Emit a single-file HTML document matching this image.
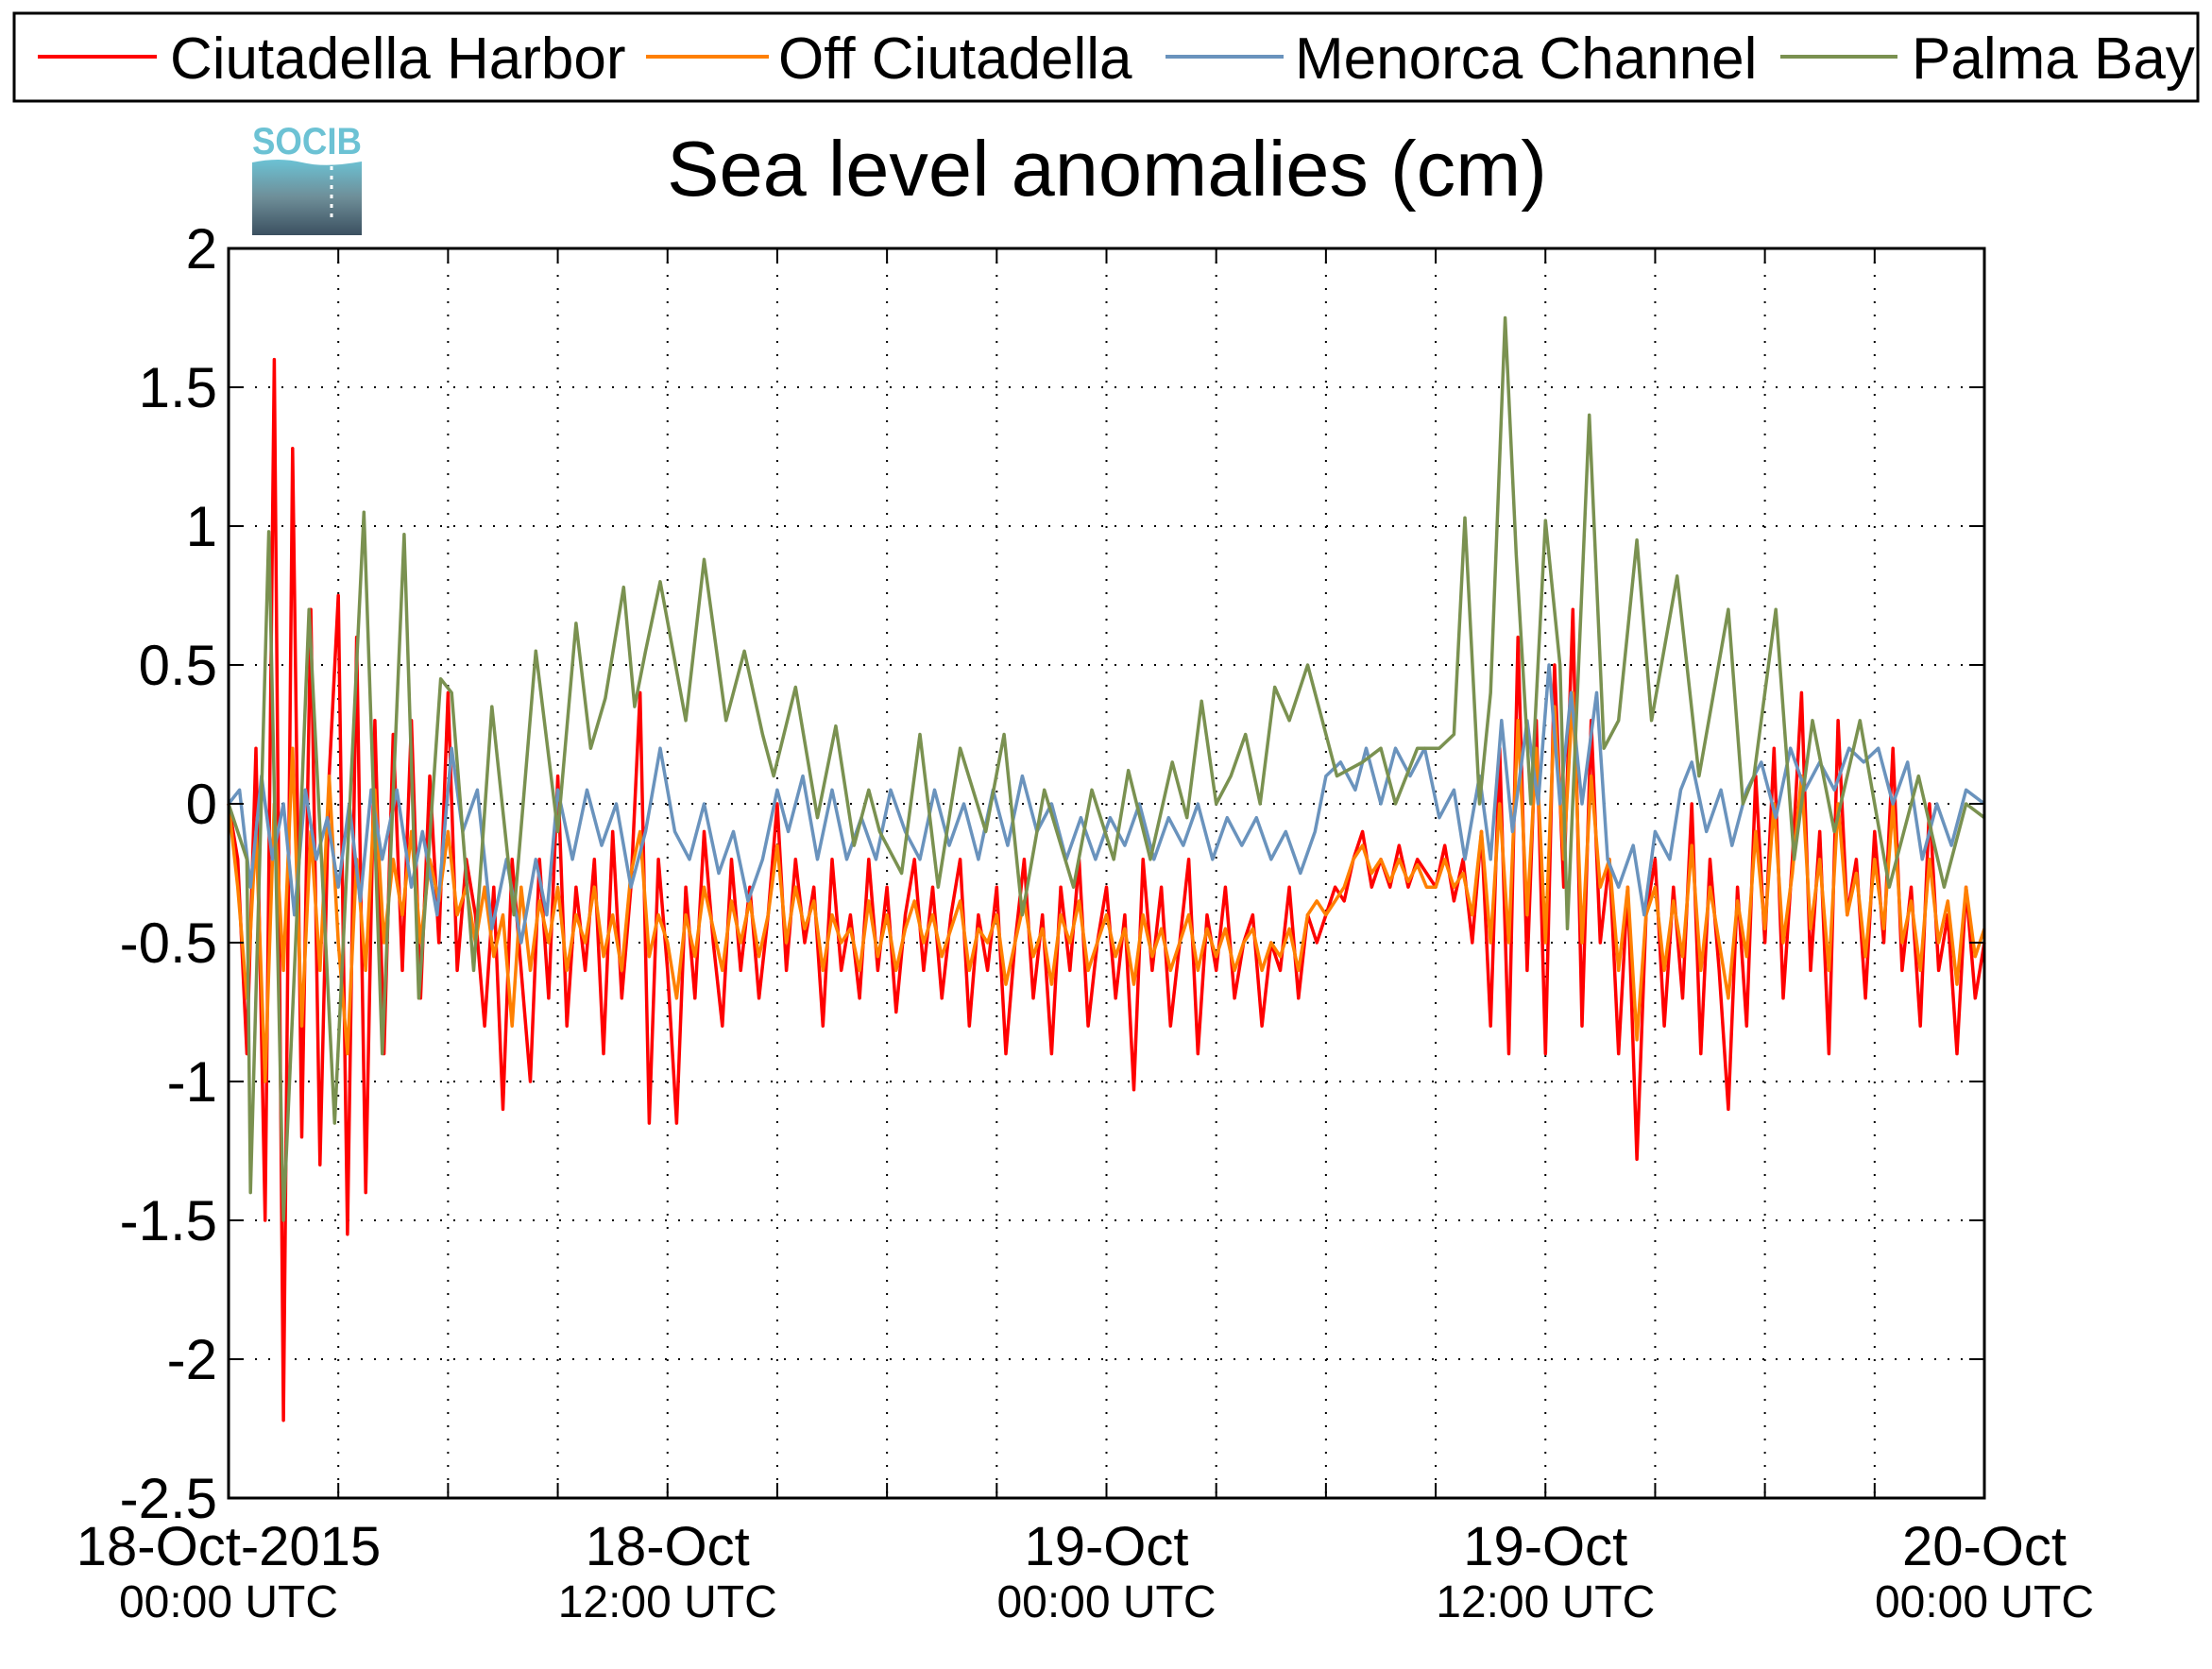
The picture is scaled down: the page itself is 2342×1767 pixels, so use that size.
<!DOCTYPE html>
<html><head><meta charset="utf-8"><style>
html,body{margin:0;padding:0;background:#fff;}
svg{display:block;font-family:"Liberation Sans",sans-serif;}
</style></head><body>
<svg id="chart" width="2342" height="1767" viewBox="0 0 2342 1767" xmlns="http://www.w3.org/2000/svg">
<rect width="2342" height="1767" fill="#fff"/>
<g>
<rect x="15" y="14" width="2312" height="93" fill="#fff" stroke="#000" stroke-width="3"/>
<g><line x1="40" y1="60" x2="166" y2="60" stroke="#ff0000" stroke-width="4"/><text x="180" y="83" font-size="62">Ciutadella Harbor</text></g>
<g><line x1="684" y1="60" x2="814" y2="60" stroke="#ff8000" stroke-width="4"/><text x="824" y="83" font-size="62">Off Ciutadella</text></g>
<g><line x1="1234" y1="60" x2="1359" y2="60" stroke="#6a93bd" stroke-width="4"/><text x="1371" y="83" font-size="62">Menorca Channel</text></g>
<g><line x1="1885" y1="60" x2="2009" y2="60" stroke="#7a9150" stroke-width="4"/><text x="2024" y="83" font-size="62">Palma Bay</text></g>
</g>
<g>
<defs><linearGradient id="lg" x1="0" y1="0" x2="0" y2="1"><stop offset="0" stop-color="#6cc2d4"/><stop offset="0.5" stop-color="#6e8e98"/><stop offset="1" stop-color="#3b5060"/></linearGradient></defs>
<text x="267" y="163" font-size="40" fill="#6cc2d4" font-weight="bold" textLength="116" lengthAdjust="spacingAndGlyphs">SOCIB</text>
<path d="M267 172 Q295 166 320 172 Q345 178 383 171 L383 249 L267 249 Z" fill="url(#lg)"/>
<line x1="351" y1="176" x2="351" y2="232" stroke="#fff" stroke-width="3" stroke-dasharray="4 6"/>
</g>
<text x="1172" y="207" font-size="83" text-anchor="middle">Sea level anomalies (cm)</text>
<g id="grid"></g>
<g id="series"></g>
<g id="axes"></g>
</svg>
<script>
const yTicks = [2, 1.5, 1, 0.5, 0, -0.5, -1, -1.5, -2, -2.5];
const yTickLabels = ["2", "1.5", "1", "0.5", "0", "-0.5", "-1", "-1.5", "-2", "-2.5"];
const xTickHours = [0, 12, 24, 36, 48];
const xDateLabels = ["18-Oct-2015", "18-Oct", "19-Oct", "19-Oct", "20-Oct"];
const xTimeLabels = ["00:00 UTC", "12:00 UTC", "00:00 UTC", "12:00 UTC", "00:00 UTC"];
const gridHours = [0,3,6,9,12,15,18,21,24,27,30,33,36,39,42,45,48];
const seriesNames = ["Ciutadella Harbor", "Off Ciutadella", "Menorca Channel", "Palma Bay"];

const harborStepHours = 0.25;
const harborValues = [0,-0.2,-0.9,0.2, -1.5,1.6,-2.22,1.28, -1.2,0.7,-1.3,0.1, 0.75,-1.55,0.6,-1.4,
0.3,-0.9,0.25,-0.6, 0.3,-0.7,0.1,-0.5, 0.4,-0.6,-0.2,-0.4, -0.8,-0.3,-1.1,-0.2, -0.6,-1.0,-0.2,-0.7,
0.1,-0.8,-0.3,-0.6, -0.2,-0.9,-0.1,-0.7, -0.3,0.4,-1.15,-0.2, -0.6,-1.15,-0.3,-0.7, -0.1,-0.5,-0.8,-0.2,
-0.6,-0.3,-0.7,-0.4, 0.0,-0.6,-0.2,-0.5, -0.3,-0.8,-0.2,-0.6, -0.4,-0.7,-0.2,-0.6, -0.3,-0.75,-0.4,-0.2,
-0.6,-0.3,-0.7,-0.4, -0.2,-0.8,-0.4,-0.6, -0.3,-0.9,-0.5,-0.2, -0.7,-0.4,-0.9,-0.3, -0.6,-0.2,-0.8,-0.5,
-0.3,-0.7,-0.4,-1.03, -0.2,-0.6,-0.3,-0.8, -0.5,-0.2,-0.9,-0.4, -0.6,-0.3,-0.7,-0.5, -0.4,-0.8,-0.5,-0.6,
-0.3,-0.7,-0.4,-0.5, -0.4,-0.3,-0.35,-0.2, -0.1,-0.3,-0.2,-0.3, -0.15,-0.3,-0.2,-0.25, -0.3,-0.15,-0.35,-0.2,
-0.5,-0.1,-0.8,0.2, -0.9,0.6,-0.6,0.3, -0.9,0.5,-0.3,0.7, -0.8,0.3,-0.5,-0.2, -0.9,-0.3,-1.28,-0.4,
-0.2,-0.8,-0.3,-0.7, 0.0,-0.9,-0.2,-0.6, -1.1,-0.3,-0.8,0.1, -0.5,0.2,-0.7,-0.2, 0.4,-0.6,-0.1,-0.9,
0.3,-0.4,-0.2,-0.7, -0.1,-0.5,0.2,-0.6, -0.3,-0.8,0.0,-0.6, -0.4,-0.9,-0.3,-0.7, -0.5];

const offStepHours = 0.25;
const offValues = [0,-0.3,-0.7,-0.1, -1.0,0.0,-0.6,0.2, -0.8,-0.1,-0.6,0.1, -0.5,-0.9,-0.2,-0.6,
0.05,-0.5,-0.2,-0.4, -0.1,-0.5,-0.2,-0.35, -0.1,-0.4,-0.3,-0.5, -0.3,-0.55,-0.4,-0.8, -0.3,-0.6,-0.35,-0.5,
-0.3,-0.6,-0.4,-0.5, -0.3,-0.55,-0.4,-0.6, -0.25,-0.1,-0.55,-0.4, -0.5,-0.7,-0.4,-0.55, -0.3,-0.45,-0.6,-0.35,
-0.5,-0.35,-0.55,-0.4, -0.15,-0.5,-0.3,-0.45, -0.35,-0.6,-0.4,-0.5, -0.45,-0.6,-0.35,-0.55, -0.4,-0.6,-0.45,-0.35,
-0.5,-0.4,-0.55,-0.45, -0.35,-0.6,-0.45,-0.5, -0.4,-0.65,-0.5,-0.35, -0.55,-0.45,-0.65,-0.4, -0.5,-0.35,-0.6,-0.5,
-0.4,-0.55,-0.45,-0.65, -0.4,-0.55,-0.45,-0.6, -0.5,-0.4,-0.6,-0.45, -0.55,-0.45,-0.6,-0.5, -0.45,-0.6,-0.5,-0.55,
-0.45,-0.6,-0.4,-0.35, -0.4,-0.35,-0.3,-0.2, -0.15,-0.25,-0.2,-0.28, -0.2,-0.28,-0.22,-0.3, -0.3,-0.2,-0.3,-0.25,
-0.4,-0.1,-0.5,0.0, -0.5,0.3,-0.4,0.2, -0.5,0.35,-0.2,0.4, -0.5,0.1,-0.3,-0.2, -0.6,-0.3,-0.85,-0.4,
-0.3,-0.6,-0.35,-0.55, -0.15,-0.6,-0.3,-0.5, -0.7,-0.35,-0.55,-0.1, -0.45,0.0,-0.5,-0.25, 0.1,-0.45,-0.2,-0.6,
0.0,-0.4,-0.25,-0.55, -0.2,-0.45,0.0,-0.5, -0.35,-0.6,-0.2,-0.5, -0.35,-0.65,-0.3,-0.55, -0.45];

const channelHours = [0,0.3,0.6,0.9,1.2,1.5,1.8,2.1,2.4,2.7,3.0,3.3,3.6,3.9,4.2,4.6,5.0,5.3,5.7,6.1,6.4,6.8,7.2,7.6,8.0,8.4,8.7,9.0,9.4,9.8,10.2,10.6,11.0,11.4,11.8,12.2,12.6,13.0,13.4,13.8,14.2,14.6,15.0,15.3,15.7,16.1,16.5,16.9,17.3,17.7,18.1,18.5,18.9,19.3,19.7,20.1,20.5,20.9,21.3,21.7,22.1,22.5,22.9,23.3,23.7,24.1,24.5,24.9,25.3,25.7,26.1,26.5,26.9,27.3,27.7,28.1,28.5,28.9,29.3,29.7,30.0,30.4,30.8,31.1,31.5,31.9,32.3,32.7,33.1,33.5,33.8,34.2,34.5,34.8,35.1,35.5,35.8,36.1,36.4,36.7,37.0,37.4,37.7,38.0,38.4,38.7,39.0,39.4,39.7,40.0,40.4,40.8,41.1,41.5,41.9,42.3,42.7,43.1,43.5,43.9,44.3,44.7,45.1,45.5,45.9,46.3,46.7,47.1,47.5,48];
const channelValues = [0,0.05,-0.3,0.1,-0.2,0,-0.4,0.05,-0.2,-0.05,-0.3,0,-0.35,0.05,-0.2,0.05,-0.3,-0.1,-0.4,0.2,-0.1,0.05,-0.45,-0.2,-0.5,-0.2,-0.4,0.05,-0.2,0.05,-0.15,0.0,-0.3,-0.1,0.2,-0.1,-0.2,0.0,-0.25,-0.1,-0.35,-0.2,0.05,-0.1,0.1,-0.2,0.05,-0.2,-0.05,-0.2,0.05,-0.1,-0.2,0.05,-0.15,0.0,-0.2,0.05,-0.15,0.1,-0.1,0.0,-0.2,-0.05,-0.2,-0.05,-0.15,0.0,-0.2,-0.05,-0.15,0.0,-0.2,-0.05,-0.15,-0.05,-0.2,-0.1,-0.25,-0.1,0.1,0.15,0.05,0.2,0.0,0.2,0.1,0.2,-0.05,0.05,-0.2,0.1,-0.2,0.3,-0.1,0.3,0.0,0.5,0.0,0.4,0.0,0.4,-0.2,-0.3,-0.15,-0.4,-0.1,-0.2,0.05,0.15,-0.1,0.05,-0.15,0.05,0.15,-0.05,0.2,0.05,0.15,0.05,0.2,0.15,0.2,0.0,0.15,-0.2,0.0,-0.15,0.05,0.0];

const palmaHours = [0,0.5,0.6,1.1,1.5,1.9,2.2,2.9,3.7,4.2,4.8,5.2,5.8,6.1,6.7,7.2,7.8,8.4,9.0,9.5,9.9,10.3,10.8,11.1,11.4,11.8,12.5,13.0,13.6,14.1,14.6,14.9,15.5,16.1,16.6,17.1,17.5,17.8,18.4,18.9,19.4,20.0,20.7,21.2,21.7,22.3,23.1,23.6,24.2,24.6,25.2,25.8,26.2,26.6,27.0,27.4,27.8,28.2,28.6,29.0,29.5,30.0,30.3,31.0,31.5,31.9,32.5,33.1,33.5,33.8,34.2,34.5,34.9,35.2,35.6,36.0,36.4,36.6,37.2,37.6,38.0,38.5,38.9,39.6,40.2,40.6,41.0,41.4,41.7,42.3,42.8,43.3,43.9,44.6,45.4,46.2,46.9,47.5,48];
const palmaValues = [0,-0.2,-1.4,0.98,-1.5,-0.3,0.7,-1.15,1.05,-0.9,0.97,-0.7,0.45,0.4,-0.6,0.35,-0.4,0.55,-0.1,0.65,0.2,0.38,0.78,0.35,0.55,0.8,0.3,0.88,0.3,0.55,0.25,0.1,0.42,-0.05,0.28,-0.15,0.05,-0.1,-0.25,0.25,-0.3,0.2,-0.1,0.25,-0.4,0.05,-0.3,0.05,-0.2,0.12,-0.2,0.15,-0.05,0.37,0,0.1,0.25,0,0.42,0.3,0.5,0.25,0.1,0.15,0.2,0,0.2,0.2,0.25,1.03,0.0,0.4,1.75,0.9,0.0,1.02,0.5,-0.45,1.4,0.2,0.3,0.95,0.3,0.82,0.1,0.4,0.7,0,0.1,0.7,-0.2,0.3,-0.1,0.3,-0.3,0.1,-0.3,0,-0.05];

const L = 242, R = 2101, T = 263, B = 1586;
const yMax = 2, yMin = -2.5, hMax = 48;
function xScale(h){ return L + (h / hMax) * (R - L); }
function yScale(v){ return T + (yMax - v) / (yMax - yMin) * (B - T); }
const NS = "http://www.w3.org/2000/svg";
function mk(tag, attrs, parent){ const e = document.createElementNS(NS, tag); for (const k in attrs) e.setAttribute(k, attrs[k]); parent.appendChild(e); return e; }

const grid = document.getElementById('grid');
const axes = document.getElementById('axes');
const seriesG = document.getElementById('series');

gridHours.forEach(h => {
  const x = xScale(h);
  if (h > 0 && h < hMax) {
    const g = mk('line', {x1:x, y1:T, x2:x, y2:B, stroke:'#000', 'stroke-width':2, 'stroke-dasharray':'2 12'}, grid);
    
    
    const t1 = mk('line', {x1:x, y1:T, x2:x, y2:T+16, stroke:'#000', 'stroke-width':2}, axes);
    
    
    const t2 = mk('line', {x1:x, y1:B, x2:x, y2:B-16, stroke:'#000', 'stroke-width':2}, axes);
    
    
  }
});
yTicks.forEach((v, i) => {
  const y = yScale(v);
  if (v < yMax && v > yMin) {
    const g = mk('line', {x1:L, y1:y, x2:R, y2:y, stroke:'#000', 'stroke-width':2, 'stroke-dasharray':'2 12'}, grid);
    
    
    const t1 = mk('line', {x1:L, y1:y, x2:L+16, y2:y, stroke:'#000', 'stroke-width':2}, axes);
    
    
    const t2 = mk('line', {x1:R, y1:y, x2:R-16, y2:y, stroke:'#000', 'stroke-width':2}, axes);
    
    
  }
  const lab = mk('text', {x:L-12, y:y+21, 'font-size':60, 'text-anchor':'end'}, axes);
  lab.textContent = yTickLabels[i];
  
  
});
xTickHours.forEach((h, i) => {
  const x = xScale(h);
  const d = mk('text', {x:x, y:1657, 'font-size':58, 'text-anchor':'middle'}, axes);
  d.textContent = xDateLabels[i];
  
  
  const t = mk('text', {x:x, y:1712, 'font-size':48, 'text-anchor':'middle'}, axes);
  t.textContent = xTimeLabels[i];
  
  
});
const frame = mk('rect', {x:L, y:T, width:R-L, height:B-T, fill:'none', stroke:'#000', 'stroke-width':3}, axes);



function drawSeries(hours, values, color, name){
  const pts = values.map((v, i) => xScale(hours[i]).toFixed(1) + ',' + yScale(v).toFixed(1)).join(' ');
  const p = mk('polyline', {points: pts, fill:'none', stroke: color, 'stroke-width': 3.5, 'stroke-linejoin':'round'}, seriesG);
  
  
}
const harborHours = harborValues.map((_, i) => i * harborStepHours);
const offHours = offValues.map((_, i) => i * offStepHours);
drawSeries(harborHours, harborValues, '#ff0000', 'series-ciutadella-harbor');
drawSeries(offHours, offValues, '#ff8000', 'series-off-ciutadella');
drawSeries(channelHours, channelValues, '#6a93bd', 'series-menorca-channel');
drawSeries(palmaHours, palmaValues, '#7a9150', 'series-palma-bay');
</script>
</body></html>
